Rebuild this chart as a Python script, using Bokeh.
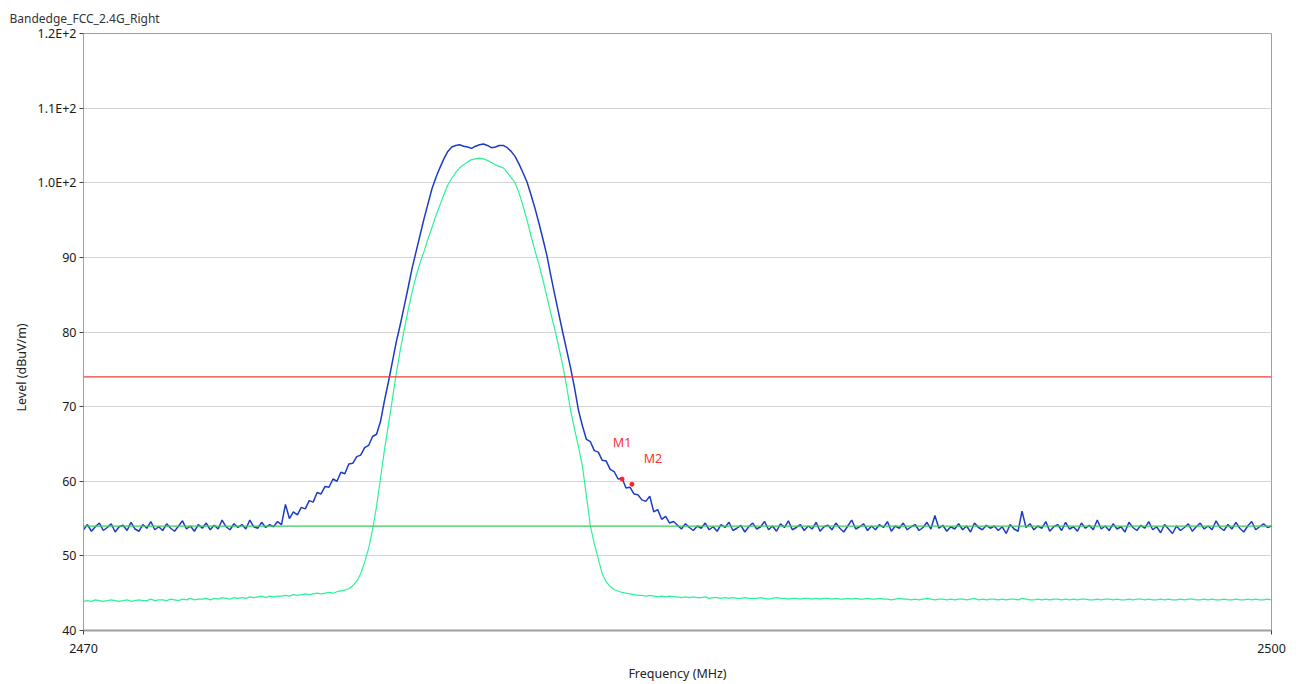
import numpy as np
from bokeh.plotting import figure
from bokeh.models import Span, FixedTicker, Title
from bokeh.core.properties import value
from bokeh.embed import file_html
from bokeh.resources import INLINE

# ---------------- data ----------------
freq_start = 2470.0
freq_step = 0.1

# Peak detector trace (dBuV/m), 2470.0 .. 2500.0 MHz, 0.1 MHz steps
peak_trace = [
    53.5, 54.2, 53.3, 53.9, 54.4, 53.4, 53.8, 54.3, 53.2, 53.9,
    54.1, 53.4, 54.5, 53.6, 53.3, 54.2, 53.7, 54.6, 53.5, 53.9,
    53.4, 54.3, 53.7, 53.3, 54.0, 54.7, 53.6, 54.0, 53.3, 54.2,
    53.7, 54.4, 53.5, 54.1, 53.6, 54.8, 53.9, 53.5, 54.3, 53.8,
    54.2, 53.6, 54.8, 53.9, 53.7, 54.5, 53.8, 54.2, 53.9, 54.6,
    54.2, 56.9, 55.0, 55.9, 55.5, 56.5, 56.3, 57.4, 57.2, 58.5,
    58.3, 59.3, 59.2, 60.3, 60.0, 61.2, 61.0, 62.3, 62.4, 63.3,
    63.5, 64.5, 64.8, 66.0, 66.3, 68.0, 70.8, 73.3, 76.0, 78.7,
    81.0, 83.5, 86.0, 88.6, 90.8, 93.0, 95.2, 97.2, 99.2, 100.7,
    102.0, 103.2, 104.2, 104.8, 105.0, 105.1, 104.9, 104.8, 104.6, 104.9,
    105.1, 105.2, 105.0, 104.7, 104.8, 105.0, 105.0, 104.7, 104.2, 103.5,
    102.5, 101.3, 100.1, 98.4, 96.6, 94.6, 92.5, 90.3, 87.6, 85.0,
    82.5, 80.0, 77.6, 75.2, 72.5, 69.5, 67.4, 65.6, 65.3, 64.1,
    63.9, 62.8, 62.7, 61.6, 61.3, 60.3, 60.4, 59.1, 59.2, 58.3,
    58.2, 57.5, 57.3, 58.0, 55.9, 56.2, 54.9, 55.3, 54.4, 54.6,
    54.1, 53.6, 54.3, 53.8, 53.4, 54.0, 53.7, 54.4, 53.5, 53.9,
    53.3, 54.2, 53.8, 54.5, 53.4, 53.7, 54.1, 53.2, 53.9, 54.4,
    53.6, 53.9, 54.6, 53.5, 54.0, 53.3, 54.3, 53.8, 54.7, 53.5,
    53.8, 54.2, 53.4, 54.0, 53.6, 54.5, 53.3, 53.9, 54.1, 53.5,
    54.4, 53.7, 53.2, 54.0, 54.8, 53.6, 53.9, 54.3, 53.4, 54.0,
    53.5, 54.2, 53.8, 54.6, 53.3, 54.0, 53.7, 54.4, 53.5, 53.9,
    54.2, 53.4, 53.8, 54.5, 53.6, 55.4, 53.7, 54.1, 53.3, 53.9,
    53.6, 54.3, 53.5, 54.0, 53.2, 54.4, 53.8, 53.5, 54.1, 53.7,
    54.0, 53.4, 53.9, 53.0, 54.2, 53.6, 53.3, 56.0, 53.8, 54.3,
    53.5, 54.0, 53.7, 54.6, 53.3, 53.9, 54.2, 53.4, 54.5, 53.6,
    53.9, 53.3, 54.4, 53.7, 54.1, 53.5, 54.8, 53.6, 54.0, 53.4,
    54.3, 53.6, 53.9, 53.2, 54.5, 53.8, 53.4, 54.1, 53.7, 54.6,
    53.5, 53.9, 53.1, 54.2, 53.6, 53.0, 54.0, 53.4, 53.8, 54.3,
    53.3, 53.9, 54.4, 53.6, 54.0, 53.5, 54.7, 53.8, 53.4, 54.2,
    53.6, 54.5, 53.7, 53.2, 54.0, 54.6, 53.5, 53.9, 54.3, 53.8,
    54.0,
]

# Average detector trace (dBuV/m), same frequency grid
avg_trace = [
    43.9, 44.0, 43.9, 44.1, 44.0, 43.9, 44.0, 44.1, 44.0, 43.9,
    44.0, 44.1, 43.9, 44.0, 44.1, 44.0, 44.0, 44.2, 44.0, 44.1,
    44.1, 44.0, 44.2, 44.1, 44.0, 44.2, 44.1, 44.3, 44.1, 44.2,
    44.2, 44.3, 44.1, 44.3, 44.2, 44.4, 44.3, 44.2, 44.4, 44.3,
    44.4, 44.3, 44.5, 44.4, 44.5, 44.6, 44.4, 44.6, 44.5, 44.6,
    44.6, 44.7, 44.6, 44.8, 44.7, 44.8, 44.9, 44.8, 44.9, 45.0,
    44.9, 45.0, 45.1, 45.0, 45.2, 45.3, 45.4, 45.6, 46.0, 46.6,
    47.6, 49.2, 51.0, 53.6, 56.6, 60.4, 64.2, 67.6, 71.0, 74.5,
    77.6, 80.4, 83.0, 85.4, 87.5, 89.3, 90.8, 92.5, 94.0, 95.6,
    97.0, 98.4, 99.7, 100.6, 101.4, 102.0, 102.4, 102.8, 103.1, 103.2,
    103.3, 103.2, 103.0, 102.7, 102.4, 102.2, 102.0, 101.4, 100.7, 100.0,
    98.6, 96.9, 95.0, 92.9, 90.9, 89.1, 87.0, 84.8, 82.5, 80.4,
    78.0, 75.6, 72.7, 69.5, 67.0, 64.6, 62.0, 58.0, 54.0, 51.6,
    49.6, 47.6, 46.5, 45.9, 45.5, 45.3, 45.1, 45.0, 44.9, 44.8,
    44.7, 44.7, 44.6, 44.7, 44.6, 44.5, 44.6, 44.5, 44.6, 44.5,
    44.5, 44.4, 44.5, 44.4, 44.5, 44.4, 44.4, 44.5, 44.3, 44.4,
    44.4, 44.3, 44.4, 44.3, 44.4, 44.3, 44.3, 44.4, 44.3, 44.3,
    44.3, 44.4, 44.3, 44.2, 44.3, 44.4, 44.3, 44.3, 44.2, 44.3,
    44.3, 44.2, 44.3, 44.3, 44.2, 44.3, 44.2, 44.3, 44.3, 44.2,
    44.3, 44.2, 44.2, 44.3, 44.2, 44.3, 44.2, 44.2, 44.3, 44.2,
    44.2, 44.3, 44.2, 44.2, 44.1, 44.2, 44.3, 44.2, 44.2, 44.1,
    44.2, 44.1, 44.2, 44.3, 44.2, 44.1, 44.2, 44.2, 44.1, 44.2,
    44.1, 44.2, 44.2, 44.1, 44.2, 44.3, 44.1, 44.2, 44.1, 44.2,
    44.2, 44.1, 44.2, 44.1, 44.2, 44.2, 44.1, 44.3, 44.2, 44.1,
    44.1, 44.2, 44.1, 44.2, 44.1, 44.2, 44.2, 44.1, 44.2, 44.1,
    44.2, 44.1, 44.2, 44.2, 44.1, 44.1, 44.2, 44.1, 44.2, 44.2,
    44.1, 44.2, 44.1, 44.1, 44.2, 44.1, 44.2, 44.2, 44.1, 44.2,
    44.1, 44.1, 44.2, 44.1, 44.2, 44.1, 44.1, 44.2, 44.1, 44.2,
    44.2, 44.1, 44.1, 44.2, 44.1, 44.2, 44.1, 44.1, 44.2, 44.1,
    44.1, 44.2, 44.1, 44.1, 44.2, 44.1, 44.2, 44.1, 44.1, 44.2,
    44.1,
]

limit_peak = 74.0
limit_avg = 54.0

marker_names = ["M1", "M2"]
marker_freq = [2483.6, 2483.85]
marker_level = [60.3, 59.6]

y_ticks = [40, 50, 60, 70, 80, 90, 100, 110, 120]
y_tick_labels = ["40", "50", "60", "70", "80", "90", "1.0E+2", "1.1E+2", "1.2E+2"]
x_ticks = [2470, 2500]

title_text = "Bandedge_FCC_2.4G_Right"
x_label = "Frequency (MHz)"
y_label = "Level (dBuV/m)"

# ---------------- figure ----------------
FONT = "Noto Sans"
freq = freq_start + freq_step * np.arange(len(peak_trace))

p = figure(width=1290, height=684, x_range=(2470, 2500), y_range=(40, 120),
           output_backend="svg", toolbar_location=None,
           min_border_left=83, min_border_right=19, min_border_top=33,
           min_border_bottom=52, background_fill_color="white",
           border_fill_color="white")

p.title.text = title_text
p.title.text_font = FONT
p.title.text_font_size = "12px"
p.title.text_font_style = "normal"
p.title.text_color = "#333333"
p.title.align = "left"
p.title.offset = -74
p.title.standoff = 14

p.outline_line_color = "#a0a0a0"

# grid
p.xgrid.visible = False
p.ygrid.ticker = FixedTicker(ticks=y_ticks)
p.ygrid.grid_line_color = "#d4d4d4"

# axes
p.yaxis.ticker = FixedTicker(ticks=y_ticks)
p.yaxis.major_label_overrides = {t: l for t, l in zip(y_ticks, y_tick_labels)}
p.xaxis.ticker = FixedTicker(ticks=x_ticks)
for ax in (p.xaxis, p.yaxis):
    ax.major_label_text_font = FONT
    ax.major_label_text_font_size = "12.5px"
    ax.major_label_text_color = "#1a1a1a"
    ax.axis_label_text_font = FONT
    ax.axis_label_text_font_size = "12.5px"
    ax.axis_label_text_font_style = "normal"
    ax.axis_label_text_color = "#222222"
    ax.axis_line_color = "#a0a0a0"
    ax.major_tick_line_color = "#444444"
    ax.major_tick_in = 0
    ax.major_tick_out = 4
    ax.minor_tick_line_color = None
p.xaxis.axis_line_width = 2
p.xaxis.axis_label = x_label
p.xaxis.major_label_standoff = 9
p.xaxis.axis_label_standoff = 9
p.yaxis.major_label_standoff = 3

# y-axis title as a side title, placed along the axis as in the source
p.add_layout(Title(text=y_label, align="left", offset=219, standoff=10,
                   text_font=FONT, text_font_size="12.5px", text_font_style="normal",
                   text_color="#222222"), "left")

# traces
p.line(freq, avg_trace, line_color="#2cf29a", line_width=1.2)
p.line(freq, peak_trace, line_color="#1c3cc4", line_width=1.5)

# limit lines
p.add_layout(Span(location=limit_peak, dimension="width", line_color="#f03c3c", line_width=1.2))
p.add_layout(Span(location=limit_avg, dimension="width", line_color="#3cc85a", line_width=1.2))

# markers
p.scatter(marker_freq, marker_level, size=4, color="#ff2020")
p.text([marker_freq[0]], [marker_level[0]], text=[marker_names[0]],
       text_font=value(FONT), text_font_size="12.5px", text_color="#ff3030",
       text_align="center", text_baseline="middle", y_offset=-37)
p.text([marker_freq[1]], [marker_level[1]], text=[marker_names[1]],
       text_font=value(FONT), text_font_size="12.5px", text_color="#ff3030",
       text_align="center", text_baseline="middle", x_offset=21, y_offset=-26)

open("out.html", "w").write(file_html(p, INLINE))
